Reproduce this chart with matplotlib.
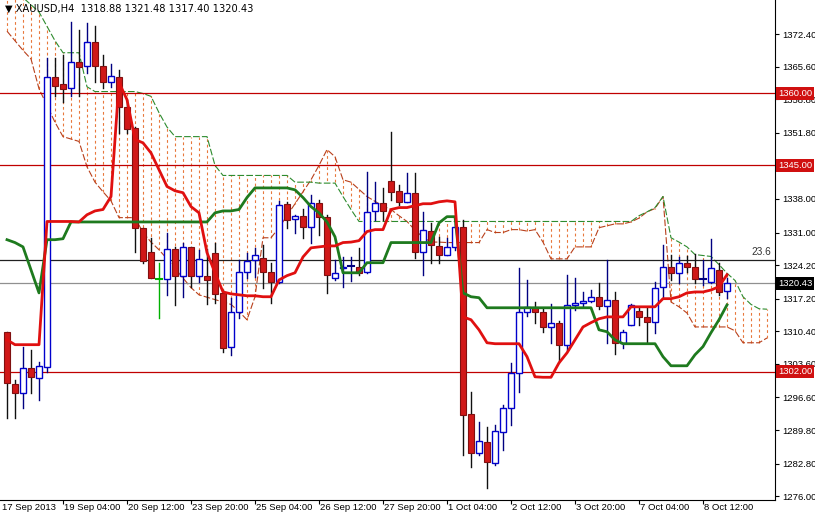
import matplotlib
matplotlib.use("Agg")
import matplotlib.pyplot as plt
import matplotlib.transforms as mtransforms

plt.rcParams["font.family"] = ["Liberation Sans", "DejaVu Sans"]

# OHLC of the H4 candles
opens = [1310.3, 1299.4, 1297.6, 1302.8, 1300.7, 1303.0, 1363.5, 1361.9, 1361.2, 1366.6,
         1365.8, 1370.8, 1365.8, 1362.3, 1363.5, 1357.1, 1352.7, 1332.0, 1327.0, 1321.4,
         1321.4, 1327.6, 1322.0, 1328.0, 1322.0, 1322.0, 1326.8, 1318.4, 1307.2, 1314.5,
         1322.8, 1325.3, 1325.7, 1322.8, 1320.7, 1337.0, 1333.9, 1334.5, 1332.2, 1337.2,
         1334.3, 1321.6, 1323.6, 1323.9, 1323.9, 1322.8, 1335.5, 1337.2, 1341.8, 1339.7,
         1337.4, 1339.3, 1327.0, 1331.4, 1328.2, 1326.4, 1328.0, 1332.2, 1293.2, 1285.0,
         1287.3, 1282.9, 1289.4, 1294.4, 1301.7, 1314.5, 1315.5, 1314.5, 1311.3, 1312.2,
         1307.6, 1315.9, 1316.3, 1316.7, 1317.6, 1315.7, 1317.0, 1308.0, 1311.7, 1314.7,
         1313.4, 1312.4, 1319.7, 1323.9, 1322.6, 1324.7, 1323.9, 1321.4, 1320.7, 1323.2,
         1318.88]
highs = [1310.3, 1300.3, 1307.2, 1306.5, 1304.0, 1367.5, 1367.5, 1368.1, 1375.0, 1373.3,
         1374.8, 1374.0, 1368.1, 1366.2, 1365.0, 1358.7, 1353.1, 1332.0, 1329.9, 1324.7,
         1331.0, 1328.0, 1328.9, 1328.0, 1327.4, 1327.5, 1328.9, 1319.0, 1317.4, 1325.3,
         1326.8, 1327.8, 1328.4, 1324.7, 1337.6, 1337.4, 1334.7, 1335.8, 1338.9, 1337.8,
         1334.7, 1325.3, 1325.9, 1325.9, 1327.8, 1343.7, 1341.6, 1340.3, 1352.0, 1341.0,
         1343.5, 1343.5, 1335.3, 1333.0, 1330.1, 1329.9, 1333.7, 1333.7, 1297.7, 1291.5,
         1290.4, 1290.9, 1295.0, 1303.8, 1323.6, 1321.1, 1316.5, 1315.0, 1316.1, 1312.5,
         1322.2, 1321.6, 1318.6, 1319.0, 1320.4, 1325.3, 1318.6, 1310.7, 1316.1, 1315.5,
         1315.3, 1320.7, 1328.4, 1326.4, 1325.9, 1326.2, 1326.6, 1325.3, 1329.7, 1324.7,
         1321.48]
lows = [1292.3, 1292.3, 1294.4, 1297.6, 1296.0, 1302.0, 1359.4, 1358.3, 1359.4, 1359.4,
        1364.3, 1362.3, 1361.2, 1361.4, 1351.8, 1351.8, 1327.0, 1324.7, 1321.6, 1313.2,
        1318.0, 1315.9, 1317.6, 1319.7, 1320.7, 1316.0, 1316.3, 1306.0, 1305.5, 1313.2,
        1321.6, 1321.8, 1319.5, 1316.3, 1320.4, 1332.0, 1331.0, 1329.9, 1328.9, 1330.5,
        1318.4, 1321.1, 1319.7, 1320.9, 1322.2, 1322.6, 1333.7, 1333.7, 1337.8, 1336.8,
        1337.4, 1325.7, 1322.2, 1324.7, 1324.7, 1326.4, 1327.4, 1284.6, 1282.1, 1284.6,
        1277.7, 1282.5, 1285.6, 1290.9, 1297.7, 1313.6, 1312.2, 1310.2, 1308.0, 1304.0,
        1306.5, 1314.9, 1315.5, 1316.5, 1315.1, 1308.0, 1305.7, 1306.9, 1311.7, 1311.7,
        1308.2, 1310.1, 1317.6, 1321.1, 1320.5, 1322.8, 1320.5, 1320.0, 1320.5, 1318.0,
        1317.40]
closes = [1299.6, 1297.6, 1302.8, 1300.9, 1303.2, 1363.5, 1361.6, 1361.0, 1366.6, 1365.6,
          1370.8, 1365.8, 1362.3, 1363.7, 1357.1, 1352.5, 1332.0, 1325.1, 1321.6, 1321.4,
          1327.6, 1322.0, 1328.0, 1322.0, 1325.5, 1321.0, 1318.2, 1307.0, 1314.5, 1322.8,
          1325.1, 1326.4, 1322.8, 1320.7, 1336.8, 1333.7, 1334.5, 1332.2, 1337.2, 1334.3,
          1322.2, 1322.6, 1323.8, 1324.0, 1322.6, 1335.3, 1337.2, 1335.5, 1339.5, 1337.4,
          1339.3, 1327.0, 1331.6, 1328.4, 1326.4, 1328.0, 1332.2, 1293.0, 1285.0, 1287.5,
          1283.1, 1289.6, 1294.4, 1301.7, 1314.5, 1315.5, 1314.5, 1311.3, 1312.2, 1307.6,
          1315.9, 1316.3, 1316.7, 1317.6, 1315.7, 1317.0, 1308.0, 1310.3, 1315.9, 1313.4,
          1312.4, 1319.5, 1323.9, 1322.6, 1324.7, 1323.9, 1321.4, 1321.4, 1323.6, 1318.6,
          1320.43]

# Ichimoku lines
tenkan = [1308.6, 1307.6, 1307.6, 1307.6, 1307.6, 1333.3, 1333.3, 1333.3, 1333.3, 1333.2,
          1334.7, 1335.5, 1335.8, 1338.5, 1362.3, 1358.7, 1350.4, 1349.7, 1347.6, 1344.1,
          1340.6, 1339.7, 1339.3, 1336.4, 1335.1, 1326.8, 1322.6, 1318.6, 1318.2, 1318.0,
          1317.8, 1317.8, 1317.6, 1317.6, 1321.1, 1322.0, 1322.6, 1325.9, 1327.8, 1328.0,
          1328.2, 1328.2, 1328.9, 1329.0, 1329.3, 1331.2, 1331.6, 1331.6, 1335.8, 1336.2,
          1336.2, 1336.6, 1337.0, 1337.0, 1337.4, 1337.6, 1337.4, 1313.4, 1312.8, 1310.7,
          1308.0, 1307.8, 1307.8, 1307.8, 1307.8, 1305.1, 1300.9, 1300.8, 1300.8, 1303.8,
          1305.9, 1308.6, 1311.3, 1312.2, 1313.0, 1313.4, 1313.4, 1313.4, 1315.5, 1315.5,
          1315.5, 1315.5, 1317.2, 1317.2, 1317.6, 1318.4, 1318.6, 1318.6, 1319.0, 1319.7,
          1322.2]
kijun = [1329.5, 1328.9, 1328.0, 1323.2, 1318.4, 1329.5, 1329.5, 1329.7, 1333.2, 1333.2,
         1333.2, 1333.2, 1333.2, 1333.2, 1333.2, 1333.2, 1333.2, 1333.2, 1333.2, 1333.2,
         1333.2, 1333.2, 1333.2, 1333.2, 1333.2, 1333.2, 1335.1, 1335.5, 1335.5, 1335.8,
         1338.3, 1340.3, 1340.3, 1340.3, 1340.3, 1340.3, 1339.9, 1338.3, 1336.4, 1335.1,
         1333.2, 1330.1, 1322.6, 1322.6, 1322.6, 1324.7, 1324.7, 1324.7, 1328.9, 1328.9,
         1328.9, 1328.9, 1328.9, 1328.9, 1333.0, 1334.3, 1334.3, 1318.4, 1317.6, 1317.4,
         1315.3, 1315.3, 1315.3, 1315.3, 1315.3, 1315.3, 1315.3, 1315.3, 1315.3, 1315.3,
         1315.3, 1315.3, 1315.3, 1315.3, 1310.7, 1310.3, 1308.6, 1307.8, 1307.8, 1307.8,
         1307.8, 1307.8, 1305.1, 1303.2, 1303.2, 1303.2, 1305.5, 1307.2, 1310.1, 1312.8,
         1315.9]
span_a = [1373.0, 1371.0, 1369.0, 1367.2, 1361.0, 1357.5, 1354.0, 1351.0, 1350.5, 1350.0,
          1344.7, 1341.5, 1339.5, 1337.6, 1334.1, 1334.1, 1334.1, 1331.0, 1329.0, 1327.4,
          1325.5, 1323.5, 1321.5, 1319.5, 1318.0, 1317.5, 1317.0, 1316.5, 1316.0, 1314.5,
          1312.8, 1317.6, 1329.9, 1329.9, 1332.0, 1334.5, 1337.0, 1339.5, 1342.0, 1345.0,
          1348.3, 1346.8, 1342.0, 1341.5, 1340.0, 1338.5, 1337.5, 1336.5, 1335.8, 1334.5,
          1333.3, 1331.5, 1330.0, 1329.0, 1329.0, 1328.9, 1328.9, 1328.9, 1328.9, 1328.9,
          1331.6, 1331.0, 1331.0, 1331.6, 1331.6, 1331.3, 1331.6, 1329.0, 1325.5, 1325.5,
          1325.5, 1328.0, 1328.0, 1328.0, 1332.0, 1332.4, 1332.8, 1332.8, 1333.2, 1334.0,
          1335.3, 1336.0, 1338.5, 1316.5, 1315.5, 1314.2, 1311.3, 1311.3, 1311.3, 1311.3,
          1311.3, 1310.5, 1308.0, 1308.0, 1308.0, 1309.0]
span_b = [1384.0, 1382.0, 1380.0, 1378.5, 1377.0, 1374.0, 1371.0, 1368.5, 1368.5, 1368.5,
          1361.4, 1360.4, 1360.4, 1360.4, 1360.4, 1360.4, 1360.4, 1360.0, 1359.4, 1356.0,
          1353.0, 1351.0, 1351.0, 1351.0, 1351.0, 1351.0, 1345.0, 1342.9, 1342.9, 1342.9,
          1342.9, 1342.9, 1342.9, 1342.9, 1342.9, 1342.9, 1341.5, 1341.5, 1341.5, 1341.3,
          1341.3, 1341.3, 1338.5, 1335.8, 1333.3, 1333.3, 1333.3, 1333.3, 1333.3, 1333.3,
          1333.3, 1333.3, 1333.3, 1333.3, 1333.3, 1333.3, 1333.3, 1333.3, 1333.3, 1333.3,
          1333.3, 1333.3, 1333.3, 1333.3, 1333.3, 1333.3, 1333.3, 1333.3, 1333.3, 1333.3,
          1333.3, 1333.3, 1333.3, 1333.3, 1333.3, 1333.3, 1333.3, 1333.3, 1333.3, 1334.5,
          1335.3, 1336.2, 1338.5, 1329.9, 1329.0, 1328.0, 1326.4, 1326.2, 1326.0, 1324.3,
          1322.5, 1321.0, 1317.6, 1316.0, 1315.1, 1315.0]

x_labels = ["17 Sep 2013", "19 Sep 04:00", "20 Sep 12:00", "23 Sep 20:00", "25 Sep 04:00",
            "26 Sep 12:00", "27 Sep 20:00", "1 Oct 04:00", "2 Oct 12:00", "3 Oct 20:00",
            "7 Oct 04:00", "8 Oct 12:00"]
x_label_bars = [-0.8, 7, 15, 23, 31, 39, 47, 55, 63, 71, 79, 87]
y_ticks = [1276.00, 1282.80, 1289.80, 1296.60, 1303.60, 1310.40, 1317.20, 1324.20,
           1331.00, 1338.00, 1351.80, 1358.80, 1365.60, 1372.40]
red_levels = [1360.00, 1345.00, 1302.00]
fibo_level = 1325.3
last_price = 1320.43

FS = 6.8

fig = plt.figure(figsize=(8.15, 5.15), dpi=100)
ax = fig.add_axes([0, 15 / 515, 775 / 815, 500 / 515])
ax.set_xlim(-0.875, 96)
ax.set_ylim(1275.2, 1379.5)

# cloud hatch + spans
xs = list(range(len(span_a)))
for i in xs:
    ax.plot([i, i], [span_a[i], span_b[i]], color="#E8783C", lw=0.8,
            ls=(0, (2.5, 2.5)), zorder=1)
ax.plot(xs, span_a, color="#B8401C", lw=0.8, ls=(0, (6, 2)), zorder=2)
ax.plot(xs, span_b, color="#2E8B2E", lw=0.8, ls=(0, (6, 2)), zorder=2)

# horizontal levels
for lv in red_levels:
    ax.axhline(lv, color="#C00000", lw=0.9, zorder=2)
ax.axhline(fibo_level, color="#202020", lw=0.9, zorder=2)
ax.axhline(last_price, color="#909090", lw=0.9, zorder=2)
ax.text(95.5, fibo_level + 0.5, "23.6", ha="right", va="bottom", fontsize=FS + 0.5, color="#333333")

# candles
for i in range(len(opens)):
    o, h, l, c = opens[i], highs[i], lows[i], closes[i]
    if abs(c - o) < 0.15:
        col = "#00B000" if i == 19 else "#000080"
        ax.plot([i, i], [l, h], color=col, lw=1, zorder=4)
        ax.plot([i - 0.35, i + 0.35], [c, c], color=col, lw=1.5, zorder=4)
    elif c > o:
        ax.plot([i, i], [l, h], color="#000080", lw=1, zorder=4)
        ax.add_patch(plt.Rectangle((i - 0.36, o), 0.72, c - o, facecolor="white",
                                   edgecolor="#0000CC", lw=1, zorder=5))
    else:
        ax.plot([i, i], [l, h], color="#101010", lw=1, zorder=4)
        ax.add_patch(plt.Rectangle((i - 0.36, c), 0.72, o - c, facecolor="#D01818",
                                   edgecolor="#801010", lw=0.8, zorder=5))

# tenkan / kijun
ax.plot(range(len(kijun)), kijun, color="#1E7A1E", lw=2, zorder=6)
ax.plot(range(len(tenkan)), tenkan, color="#E01010", lw=2, zorder=7)

# axes styling
for s in ["top", "left"]:
    ax.spines[s].set_visible(False)
ax.yaxis.tick_right()
ax.set_yticks(y_ticks)
ax.set_yticklabels([f"{v:.2f}" for v in y_ticks], fontsize=FS)
ax.tick_params(axis="y", length=3, pad=2)
ax.set_xticks(x_label_bars[1:])
ax.set_xticklabels([])
ax.tick_params(axis="x", length=3)
xtrans = mtransforms.blended_transform_factory(ax.transData, ax.transAxes)
for b, lab in zip(x_label_bars, x_labels):
    ax.text(b + 0.15, -0.006, lab, transform=xtrans, ha="left", va="top", fontsize=FS)

trans = mtransforms.blended_transform_factory(ax.transAxes, ax.transData)
for lv in red_levels:
    ax.text(1.004, lv, f"{lv:.2f}", transform=trans, ha="left", va="center", fontsize=FS,
            color="white", zorder=10, clip_on=False,
            bbox=dict(boxstyle="square,pad=0.2", facecolor="#D01010", edgecolor="none"))
ax.text(1.004, last_price, f"{last_price:.2f}", transform=trans, ha="left", va="center",
        fontsize=FS, color="white", zorder=10, clip_on=False,
        bbox=dict(boxstyle="square,pad=0.2", facecolor="black", edgecolor="none"))

fig.text(0.006, 0.992, "\u25BC XAUUSD,H4  1318.88 1321.48 1317.40 1320.43", ha="left", va="top",
         fontsize=FS + 0.3, family=["DejaVu Sans"])

fig.savefig("out.png", dpi=100)
